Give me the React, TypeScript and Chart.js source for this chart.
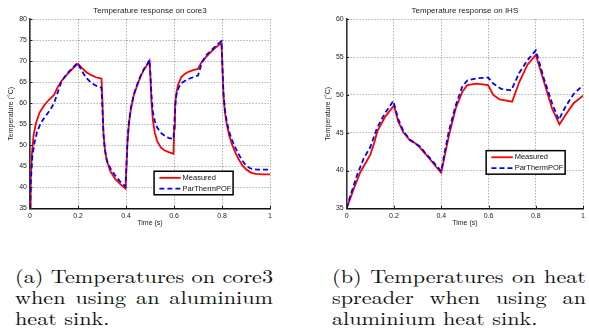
import React, { useEffect, useRef } from "react";
import { Chart, registerables } from "chart.js";

Chart.register(...registerables);

// ---------- Data ----------
const xTickLabels = ["0", "0.2", "0.4", "0.6", "0.8", "1"];

// (a) core3
const core3MeasuredTime = [0, 0.003, 0.008, 0.015, 0.025, 0.04, 0.06, 0.08, 0.1, 0.115, 0.13, 0.15, 0.165, 0.18, 0.2, 0.215, 0.235, 0.255, 0.275, 0.298, 0.302, 0.306, 0.312, 0.32, 0.335, 0.355, 0.375, 0.398, 0.402, 0.406, 0.412, 0.42, 0.432, 0.445, 0.46, 0.475, 0.49, 0.498, 0.502, 0.506, 0.512, 0.52, 0.53, 0.545, 0.56, 0.58, 0.598, 0.601, 0.604, 0.61, 0.617, 0.63, 0.645, 0.66, 0.68, 0.7, 0.715, 0.735, 0.755, 0.77, 0.785, 0.798, 0.802, 0.806, 0.812, 0.82, 0.83, 0.84, 0.855, 0.87, 0.885, 0.9, 0.92, 0.94, 0.97, 1];
const core3MeasuredTemp = [35, 42, 48, 52.5, 55.3, 57.8, 59.6, 60.9, 62, 63.8, 65.2, 66.6, 67.5, 68.4, 69.4, 68.5, 67.4, 66.7, 66.2, 65.9, 60, 53, 49, 46.3, 43.8, 42, 40.8, 39.7, 45, 50.5, 55, 58.5, 61.8, 64, 66.3, 68, 69.3, 70.1, 66, 60.5, 56, 53, 51, 49.5, 48.8, 48.3, 48, 54, 59.5, 62.5, 64.4, 66.2, 67, 67.5, 67.9, 68.2, 69.8, 71.1, 72.3, 73.1, 73.8, 74.3, 68, 62, 58, 55, 52.3, 50.5, 48.3, 46.6, 45.2, 44.3, 43.5, 43.2, 43.1, 43.1];

const core3ModelTime = [0, 0.004, 0.01, 0.02, 0.03, 0.045, 0.065, 0.085, 0.1, 0.115, 0.13, 0.15, 0.165, 0.18, 0.198, 0.215, 0.235, 0.255, 0.275, 0.298, 0.302, 0.306, 0.312, 0.32, 0.335, 0.355, 0.375, 0.398, 0.402, 0.406, 0.412, 0.42, 0.432, 0.445, 0.46, 0.475, 0.49, 0.498, 0.502, 0.506, 0.512, 0.52, 0.53, 0.547, 0.565, 0.58, 0.598, 0.601, 0.605, 0.61, 0.62, 0.63, 0.65, 0.665, 0.685, 0.7, 0.715, 0.735, 0.755, 0.77, 0.785, 0.798, 0.802, 0.806, 0.812, 0.82, 0.83, 0.84, 0.855, 0.87, 0.885, 0.9, 0.915, 0.93, 0.95, 1];
const core3ModelTemp = [35, 42, 47.5, 51, 53.3, 55.3, 57, 58.5, 60, 62.5, 65, 66.8, 67.7, 68.6, 69.6, 67.8, 66, 64.9, 64.2, 63.7, 58.5, 52.5, 49, 46.5, 44.5, 42.8, 41.4, 40.2, 45.5, 51, 55.5, 58.8, 62, 64.2, 66.4, 68.2, 69.5, 70.3, 66.5, 62, 58, 55.8, 54.2, 52.9, 52.1, 51.7, 51.5, 55, 59, 62, 63.8, 64.8, 65.5, 65.9, 66.3, 66.6, 69.5, 71.5, 72.6, 73.4, 74.2, 74.8, 68.5, 62.5, 58.5, 55.6, 53.2, 51.5, 49.5, 47.8, 46.3, 45.2, 44.6, 44.3, 44.2, 44.2];

// (b) IHS
const ihsMeasuredTime = [0, 0.03, 0.058, 0.08, 0.1, 0.115, 0.13, 0.1625, 0.2, 0.218, 0.239, 0.267, 0.29, 0.308, 0.33, 0.35, 0.378, 0.4, 0.415, 0.433, 0.461, 0.489, 0.51, 0.55, 0.598, 0.62, 0.647, 0.7, 0.73, 0.765, 0.8, 0.835, 0.869, 0.9, 0.925, 0.96, 1];
const ihsMeasuredTemp = [35, 37.6, 39.8, 41, 42.1, 43.5, 45.2, 47.1, 48.6, 46.5, 45.1, 44, 43.6, 43.1, 42.3, 41.6, 40.5, 39.7, 42, 44.7, 48.2, 50.4, 51.3, 51.5, 51.3, 50, 49.4, 49.1, 51.7, 54, 55.3, 51.7, 48.2, 46.1, 47.3, 48.9, 49.9];

const ihsModelTime = [0, 0.017, 0.044, 0.072, 0.1, 0.128, 0.1625, 0.197, 0.218, 0.24, 0.267, 0.29, 0.31, 0.33, 0.35, 0.378, 0.4, 0.415, 0.433, 0.461, 0.489, 0.51, 0.55, 0.598, 0.62, 0.653, 0.696, 0.73, 0.765, 0.8, 0.835, 0.869, 0.897, 0.925, 0.96, 1];
const ihsModelTemp = [35, 36.8, 39.4, 41.6, 43.1, 45.6, 47.6, 49.2, 46.8, 45.2, 44.1, 43.6, 43.2, 42.4, 41.7, 40.7, 39.9, 42.5, 45.3, 48.6, 51.1, 51.9, 52.2, 52.3, 51.5, 50.8, 50.6, 52.9, 54.6, 55.9, 52.1, 48.9, 46.7, 48.4, 50.1, 51.3];

const seriesLabels = ["Measured", "ParThermPOF"];
const captionA = ["(a) Temperatures on core3", "when using an aluminium", "heat sink."];
const captionB = ["(b) Temperatures on heat", "spreader when using an", "aluminium heat sink."];

// ---------- Helpers ----------
const SANS = '"Liberation Sans", Arial, sans-serif';
const SERIF = '"Latin Modern Roman", "Liberation Serif", serif';
const CAP_SIZE = 18.5;
const CAP_SCALE = 1.2;
const CAP_LH = 21.2;
const CAP_BASE = 283.3;

const pts = (xs: number[], ys: number[]) => xs.map((x, i) => ({ x, y: ys[i] }));

const boxLegendPlugin = {
  id: "boxLegend",
  afterDraw(chart: any, _args: any, opts: any) {
    const { ctx, chartArea } = chart;
    const ca = chartArea;
    ctx.save();
    ctx.strokeStyle = "#222";
    ctx.lineWidth = 1;
    const xs = chart.scales.x, ys = chart.scales.y;
    xs.ticks.forEach((t: any) => {
      const px = Math.round(xs.getPixelForValue(t.value)) + 0.5;
      ctx.beginPath(); ctx.moveTo(px, ca.bottom); ctx.lineTo(px, ca.bottom - 2.5); ctx.stroke();
    });
    ys.ticks.forEach((t: any) => {
      const py = Math.round(ys.getPixelForValue(t.value)) + 0.5;
      ctx.beginPath(); ctx.moveTo(ca.left, py); ctx.lineTo(ca.left + 2.5, py); ctx.stroke();
    });
    ctx.restore();

    const x = ca.left + opts.fx * (ca.right - ca.left);
    const y = ca.top + opts.fy * (ca.bottom - ca.top);
    const w = 79, h = 23.5;
    ctx.save();
    ctx.fillStyle = "#fff";
    ctx.fillRect(x, y, w, h);
    ctx.strokeStyle = "#000";
    ctx.lineWidth = 1.5;
    ctx.strokeRect(x, y, w, h);
    chart.data.datasets.forEach((ds: any, i: number) => {
      const ry = y + 6.6 + i * 10.8;
      ctx.strokeStyle = ds.borderColor;
      ctx.lineWidth = ds.borderWidth;
      ctx.setLineDash(ds.borderDash || []);
      ctx.beginPath();
      ctx.moveTo(x + 5.3, ry);
      ctx.lineTo(x + 26.7, ry);
      ctx.stroke();
      ctx.setLineDash([]);
      ctx.fillStyle = "#111";
      ctx.font = `7.5px ${SANS}`;
      ctx.textBaseline = "middle";
      ctx.textAlign = "left";
      ctx.fillText(ds.label, x + 28.5, ry);
    });
    ctx.restore();
  },
};

type ChartSpec = {
  title: string;
  yMin: number;
  yMax: number;
  measured: { x: number; y: number }[];
  model: { x: number; y: number }[];
  yAxisWidth: number;
  padRight: number;
  legendFx: number;
  legendFy: number;
  yTitlePad: number;
};

function TempChart({ spec, width, height }: { spec: ChartSpec; width: number; height: number }) {
  const ref = useRef<HTMLCanvasElement | null>(null);
  useEffect(() => {
    if (!ref.current) return;
    const chart = new Chart(ref.current, {
      type: "line",
      data: {
        datasets: [
          {
            label: seriesLabels[0],
            data: spec.measured,
            borderColor: "#ff0000",
            borderWidth: 1.8,
            pointRadius: 0,
            tension: 0,
            order: 1,
          },
          {
            label: seriesLabels[1],
            data: spec.model,
            borderColor: "#0000ff",
            borderWidth: 1.8,
            borderDash: [5, 3],
            pointRadius: 0,
            tension: 0,
            order: 0,
          },
        ],
      },
      options: {
        responsive: false,
        animation: false,
        devicePixelRatio: 1,
        layout: { padding: { left: 0, right: spec.padRight, top: 0, bottom: 0 } },
        plugins: {
          legend: { display: false },
          tooltip: { enabled: false },
          title: {
            display: true,
            text: spec.title,
            fullSize: false,
            color: "#222",
            font: { family: SANS, size: 8, weight: "normal", lineHeight: 1.2 },
            padding: { top: 5.5, bottom: 4.2 },
          },
          boxLegend: { fx: spec.legendFx, fy: spec.legendFy },
        } as any,
        scales: {
          x: {
            type: "linear",
            min: 0,
            max: 1,
            afterFit: (s: any) => { s.height = 31.7; },
            ticks: {
              stepSize: 0.2,
              padding: 4,
              color: "#222",
              font: { family: SANS, size: 7 },
              maxRotation: 0,
              callback: (v: any) => xTickLabels[Math.round(Number(v) / 0.2)],
            },
            grid: { color: "rgba(0,0,0,0.45)", lineWidth: 1, drawTicks: false },
            border: { display: true, color: "#111", width: 1.6, dash: [1, 2] },
            title: {
              display: true,
              text: "Time (s)",
              color: "#222",
              font: { family: SANS, size: 7, lineHeight: 1.2 },
              padding: { top: 0, bottom: 12.5 },
            },
          },
          y: {
            type: "linear",
            min: spec.yMin,
            max: spec.yMax,
            afterFit: (s: any) => { s.width = spec.yAxisWidth; },
            ticks: {
              stepSize: 5,
              padding: 3,
              color: "#222",
              font: { family: SANS, size: 7 },
            },
            grid: { color: "rgba(0,0,0,0.45)", lineWidth: 1, drawTicks: false },
            border: { display: true, color: "#333", width: 1.6, dash: [1, 2] },
            title: {
              display: true,
              text: "Temperature (°C)",
              color: "#222",
              font: { family: SANS, size: 7, lineHeight: 1.2 },
              padding: { top: spec.yTitlePad, bottom: 0 },
            },
          },
        },
      } as any,
      plugins: [boxLegendPlugin],
    });
    return () => chart.destroy();
  }, [spec]);
  return <canvas ref={ref} width={width} height={height} style={{ display: "block", width, height }} />;
}

const specA: ChartSpec = {
  title: "Temperature response on core3",
  yMin: 35,
  yMax: 80,
  measured: pts(core3MeasuredTime, core3MeasuredTemp),
  model: pts(core3ModelTime, core3ModelTemp),
  yAxisWidth: 30,
  padRight: 20,
  legendFx: 0.517,
  legendFy: 0.804,
  yTitlePad: 7,
};

const specB: ChartSpec = {
  title: "Temperature response on IHS",
  yMin: 35,
  yMax: 60,
  measured: pts(ihsMeasuredTime, ihsMeasuredTemp),
  model: pts(ihsModelTime, ihsModelTemp),
  yAxisWidth: 30.7,
  padRight: 2.3,
  legendFx: 0.59,
  legendFy: 0.695,
  yTitlePad: 7.5,
};

function fontAscDesc(font: string) {
  const ctx = document.createElement("canvas").getContext("2d")!;
  ctx.font = font;
  const m: any = ctx.measureText("Hg");
  const asc = m.fontBoundingBoxAscent ?? CAP_SIZE * 0.9;
  const desc = m.fontBoundingBoxDescent ?? CAP_SIZE * 0.25;
  return { asc, desc };
}

function Caption({ lines, left, width }: { lines: string[]; left: number; width: number }) {
  const { asc, desc } = fontAscDesc(`${CAP_SIZE}px ${SERIF}`);
  const halfLeading = (CAP_LH - (asc + desc)) / 2;
  return (
    <>
      {lines.map((l, i) => {
        const baseline = CAP_BASE + i * CAP_LH;
        const top = baseline - halfLeading - asc;
        const last = i === lines.length - 1;
        return (
          <div
            key={i}
            style={{
              position: "absolute",
              left,
              top,
              width: width / CAP_SCALE,
              height: CAP_LH,
              transform: `scaleX(${CAP_SCALE})`,
              transformOrigin: "left top",
              fontFamily: SERIF,
              fontSize: CAP_SIZE,
              lineHeight: `${CAP_LH}px`,
              color: "#111",
              whiteSpace: "nowrap",
              textAlign: last ? "left" : "justify",
              textAlignLast: last ? "left" : "justify",
            } as any}
          >
            {l}
          </div>
        );
      })}
    </>
  );
}

export default function App() {
  return (
    <div
      style={{
        position: "absolute",
        left: 0,
        top: 0,
        width: 589,
        height: 333,
        background: "#fff",
        overflow: "hidden",
      }}
    >
      <div style={{ position: "absolute", left: 0, top: 0 }}>
        <TempChart spec={specA} width={290} height={240} />
      </div>
      <div style={{ position: "absolute", left: 316, top: 0 }}>
        <TempChart spec={specB} width={273} height={240} />
      </div>
      <Caption lines={captionA} left={15} width={258} />
      <Caption lines={captionB} left={332} width={254} />
    </div>
  );
}
